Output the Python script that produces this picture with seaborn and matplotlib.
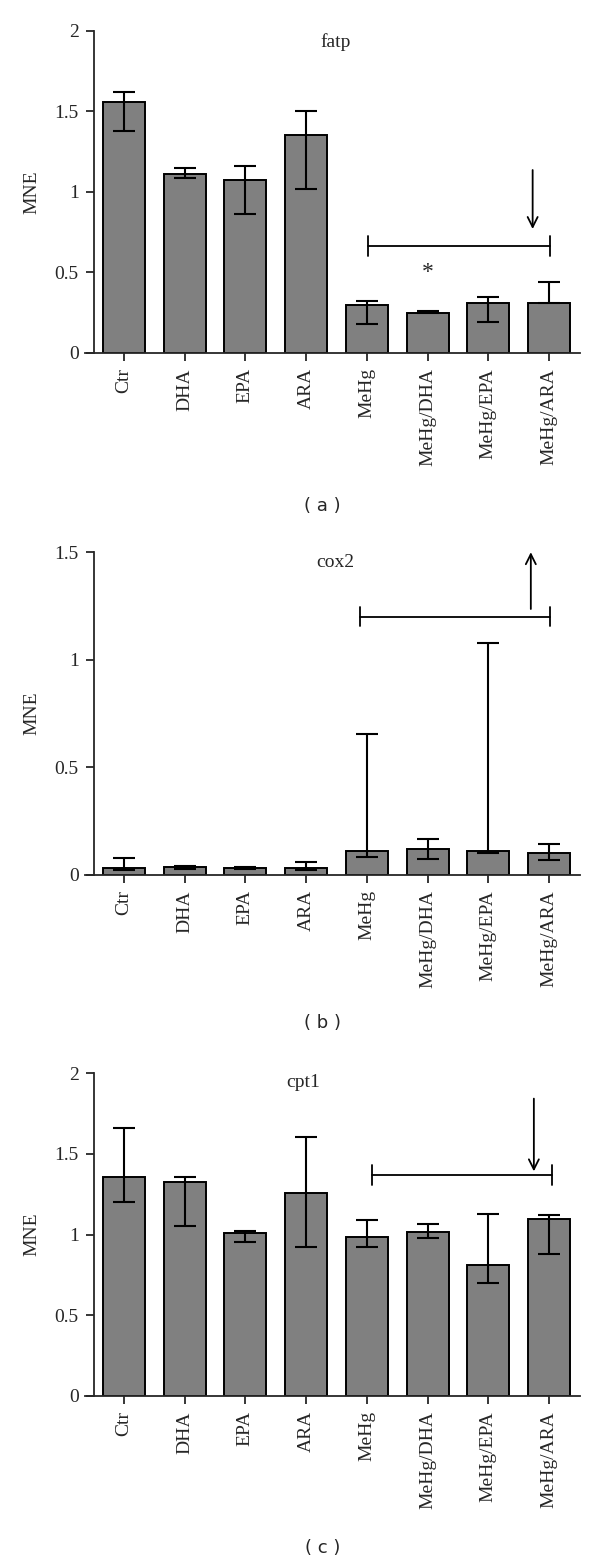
import matplotlib.pyplot as plt
import seaborn as sns
import pandas as pd

# grupos de tratamiento
groups = ['Ctr', 'DHA', 'EPA', 'ARA', 'MeHg', 'MeHg/DHA', 'MeHg/EPA', 'MeHg/ARA']

# (a) fatp: media y extremos de la barra de error
fatp_mean = [1.56, 1.11, 1.07, 1.35, 0.30, 0.245, 0.31, 0.31]
fatp_low = [1.38, 1.085, 0.865, 1.02, 0.18, 0.245, 0.19, 0.31]
fatp_high = [1.62, 1.15, 1.16, 1.50, 0.32, 0.26, 0.35, 0.44]

# (b) cox2
cox2_mean = [0.034, 0.035, 0.034, 0.034, 0.112, 0.12, 0.11, 0.104]
cox2_low = [0.023, 0.027, 0.027, 0.023, 0.084, 0.076, 0.102, 0.07]
cox2_high = [0.08, 0.04, 0.037, 0.062, 0.656, 0.167, 1.08, 0.146]

# (c) cpt1
cpt1_mean = [1.355, 1.328, 1.011, 1.259, 0.982, 1.015, 0.813, 1.094]
cpt1_low = [1.20, 1.055, 0.953, 0.924, 0.921, 0.976, 0.697, 0.879]
cpt1_high = [1.66, 1.355, 1.024, 1.605, 1.088, 1.063, 1.125, 1.12]

# anotaciones: corchete (x0, x1, y, medio alto), flecha (x, y inicio, y fin)
fatp_bracket = (4.02, 7.02, 0.663, 0.062)
fatp_arrow = (6.73, 1.135, 0.769)
cox2_bracket = (3.89, 7.02, 1.20, 0.044)
cox2_arrow = (6.70, 1.236, 1.50)
cpt1_bracket = (4.08, 7.05, 1.367, 0.062)
cpt1_arrow = (6.75, 1.843, 1.392)

sns.set_style('ticks')
plt.rcParams['font.family'] = ['Liberation Serif', 'DejaVu Serif']
plt.rcParams['axes.linewidth'] = 1.3

fig = plt.figure(figsize=(6, 15.63), dpi=100)


def panel(rect, mean, low, high, ymax, yticks, yticklabels, title, title_xy,
          bracket, arrow, letter, letter_y, star=None):
    ax = fig.add_axes(rect)
    df = pd.DataFrame({'grupo': groups, 'valor': mean})
    sns.barplot(data=df, x='grupo', y='valor', color='#808080', saturation=1,
                edgecolor='black', linewidth=1.4, width=0.69, errorbar=None, ax=ax)
    err = [[m - l for m, l in zip(mean, low)], [h - m for m, h in zip(mean, high)]]
    ax.errorbar(range(len(groups)), mean, yerr=err, fmt='none', ecolor='black',
                elinewidth=1.5, capsize=8, capthick=1.5)
    ax.set_xlim(-0.64, 7.51)
    ax.set_ylim(0, ymax)
    ax.set_yticks(yticks)
    ax.set_yticklabels(yticklabels)
    ax.spines['left'].set_position(('data', -0.49))
    sns.despine(ax=ax)
    ax.tick_params(axis='both', direction='out', length=6, width=1.3, labelsize=14,
                   pad=5)
    ax.tick_params(axis='x', labelrotation=90)
    ax.set_xlabel('')
    ax.set_ylabel('MNE', fontsize=14, labelpad=10)
    ax.text(title_xy[0], title_xy[1], title, ha='center', va='center', fontsize=14)

    x0, x1, y, h = bracket
    ax.plot([x0, x1], [y, y], color='black', lw=1.3)
    ax.plot([x0, x0], [y - h, y + h], color='black', lw=1.3)
    ax.plot([x1, x1], [y - h, y + h], color='black', lw=1.3)
    ax_x, y_from, y_to = arrow
    ax.annotate('', xy=(ax_x, y_to), xytext=(ax_x, y_from),
                arrowprops=dict(arrowstyle='->', color='black', lw=1.3,
                                mutation_scale=18, shrinkA=0, shrinkB=0))
    if star is not None:
        ax.text(star[0], star[1], '*', ha='center', va='center', fontsize=17)

    fig.text(0.538, letter_y, '( %s )' % letter, ha='center', va='center',
             fontsize=13, family='DejaVu Sans')
    return ax


panel([0.1417, 0.7742, 0.825, 0.2062], fatp_mean, fatp_low, fatp_high, 2,
      [0, 0.5, 1, 1.5, 2], ['0', '0.5', '1', '1.5', '2'], 'fatp', (3.48, 1.93),
      fatp_bracket, fatp_arrow, 'a', 0.676, star=(5, 0.50))
panel([0.1417, 0.4402, 0.825, 0.2065], cox2_mean, cox2_low, cox2_high, 1.5,
      [0, 0.5, 1, 1.5], ['0', '0.5', '1', '1.5'], 'cox2', (3.48, 1.45),
      cox2_bracket, cox2_arrow, 'b', 0.3455)
panel([0.1417, 0.107, 0.825, 0.2063], cpt1_mean, cpt1_low, cpt1_high, 2,
      [0, 0.5, 1, 1.5, 2], ['0', '0.5', '1', '1.5', '2'], 'cpt1', (2.95, 1.94),
      cpt1_bracket, cpt1_arrow, 'c', 0.0096)

plt.savefig('out.png', dpi=100)
